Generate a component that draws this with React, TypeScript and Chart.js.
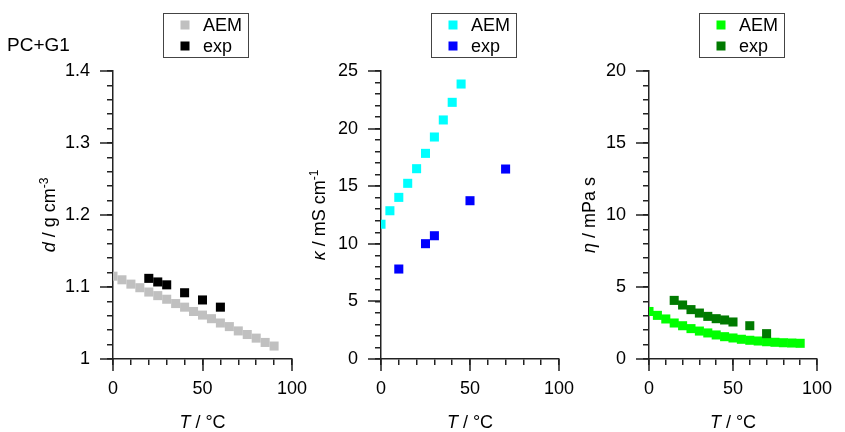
import React, { useEffect, useRef } from "react";
import { Chart, registerables } from "chart.js";

Chart.register(...registerables);

// ---------- data ----------
const T_AEM = [0, 5, 10, 15, 20, 25, 30, 35, 40, 45, 50, 55, 60, 65, 70, 75, 80, 85, 90];
const d_AEM = [1.115, 1.11, 1.104, 1.099, 1.093, 1.088, 1.083, 1.077, 1.072, 1.066, 1.061, 1.056, 1.05, 1.045, 1.039, 1.034, 1.029, 1.023, 1.018];
const T_d_exp = [20, 25, 30, 40, 50, 60];
const d_exp = [1.112, 1.107, 1.103, 1.092, 1.082, 1.072];

const T_k_AEM = [0, 5, 10, 15, 20, 25, 30, 35, 40, 45];
const k_AEM = [11.7, 12.87, 14.03, 15.25, 16.52, 17.85, 19.27, 20.75, 22.28, 23.87];
const T_k_exp = [10, 25, 30, 50, 70];
const k_exp = [7.81, 10.01, 10.7, 13.74, 16.49];

const eta_AEM = [3.3, 3.03, 2.78, 2.5, 2.31, 2.11, 1.94, 1.81, 1.67, 1.55, 1.46, 1.37, 1.3, 1.25, 1.2, 1.16, 1.13, 1.11, 1.09];
const T_eta_exp = [15, 20, 25, 30, 35, 40, 45, 50, 60, 70];
const eta_exp = [4.07, 3.75, 3.43, 3.19, 2.96, 2.8, 2.71, 2.57, 2.31, 1.76];

const legendLabels = ["AEM", "exp"];
const xMajor = 50;
const xMinor = 10;

// ---------- layout ----------
const W = 845;
const H = 432;
const PLOT_TOP = 71;
const PLOT_BOTTOM = 359;
const FONT = "'Liberation Sans', Arial, sans-serif";
const AXIS_COLOR = "#222";
const MINOR_LEN = 6;
const MAJOR_LEN = 12;
const FS = 18;

type Part = { t: string; italic?: boolean; sup?: boolean };

type Panel = {
  left: number;
  right: number;
  yMin: number;
  yMax: number;
  yStep: number;
  yMinor: number;
  aemX: number[];
  aemY: number[];
  expX: number[];
  expY: number[];
  aemColor: string;
  expColor: string;
  yTitle: Part[];
  yTitleOffset: number;
  corner?: string;
};

const panels: Panel[] = [
  {
    left: 113,
    right: 292,
    yMin: 1,
    yMax: 1.4,
    yStep: 0.1,
    yMinor: 0.02,
    aemX: T_AEM,
    aemY: d_AEM,
    expX: T_d_exp,
    expY: d_exp,
    aemColor: "#c0c0c0",
    expColor: "#000000",
    yTitle: [{ t: "d", italic: true }, { t: " / g cm" }, { t: "-3", sup: true }],
    yTitleOffset: 64,
    corner: "PC+G1",
  },
  {
    left: 381,
    right: 559,
    yMin: 0,
    yMax: 25,
    yStep: 5,
    yMinor: 1,
    aemX: T_k_AEM,
    aemY: k_AEM,
    expX: T_k_exp,
    expY: k_exp,
    aemColor: "#00ffff",
    expColor: "#0000ff",
    yTitle: [{ t: "κ", italic: true }, { t: " / mS cm" }, { t: "-1", sup: true }],
    yTitleOffset: 62,
  },
  {
    left: 649,
    right: 826,
    yMin: 0,
    yMax: 20,
    yStep: 5,
    yMinor: 1,
    aemX: T_AEM,
    aemY: eta_AEM,
    expX: T_eta_exp,
    expY: eta_exp,
    aemColor: "#00ff00",
    expColor: "#007a00",
    yTitle: [{ t: "η", italic: true }, { t: " / mPa s" }],
    yTitleOffset: 60,
  },
];

function isMajor(v: number, step: number, base: number) {
  const r = (v - base) / step;
  return Math.abs(r - Math.round(r)) < 1e-6;
}

function fontFor(p: Part, size: number) {
  const s = p.sup ? Math.round(size * 0.68) : size;
  return `${p.italic ? "italic " : ""}${s}px ${FONT}`;
}

function drawRich(ctx: CanvasRenderingContext2D, parts: Part[], cx: number, cy: number, size: number) {
  let total = 0;
  const widths = parts.map((p) => {
    ctx.font = fontFor(p, size);
    const w = ctx.measureText(p.t).width;
    total += w;
    return w;
  });
  let x = cx - total / 2;
  ctx.textBaseline = "alphabetic";
  ctx.textAlign = "left";
  const base = cy + size * 0.36;
  parts.forEach((p, i) => {
    ctx.font = fontFor(p, size);
    ctx.fillText(p.t, x, p.sup ? base - size * 0.42 : base);
    x += widths[i];
  });
}

function makeDecor(panel: Panel) {
  return {
    id: "decor",
    afterDraw(chart: any) {
      const ctx: CanvasRenderingContext2D = chart.ctx;
      const xs = chart.scales.x;
      const ys = chart.scales.y;
      const area = chart.chartArea;
      ctx.save();
      // extend major ticks beyond minor tick length
      ctx.fillStyle = AXIS_COLOR;
      for (let v = 0; v <= 100; v += xMajor) {
        const px = Math.round(xs.getPixelForValue(v));
        ctx.fillRect(px - 0.75, area.bottom, 1.5, MAJOR_LEN);
      }
      const nMajor = Math.round((panel.yMax - panel.yMin) / panel.yStep);
      for (let i = 0; i <= nMajor; i++) {
        const v = panel.yMin + i * panel.yStep;
        const py = Math.round(ys.getPixelForValue(v));
        ctx.fillRect(area.left - MAJOR_LEN - 1, py - 0.75, MAJOR_LEN + 1, 1.5);
      }

      ctx.fillStyle = "#000";
      // x title
      drawRich(ctx, [{ t: "T", italic: true }, { t: " / °C" }], (area.left + area.right) / 2, 422, FS);
      // y title
      ctx.save();
      ctx.translate(area.left - panel.yTitleOffset, (area.top + area.bottom) / 2);
      ctx.rotate(-Math.PI / 2);
      drawRich(ctx, panel.yTitle, 0, 0, FS);
      ctx.restore();

      // legend
      const lx = area.left + 50;
      ctx.strokeStyle = "#444";
      ctx.lineWidth = 1;
      ctx.strokeRect(lx + 0.5, 13.5, 85, 44);
      const colors = [panel.aemColor, panel.expColor];
      const rows = [25, 46];
      ctx.font = `${FS}px ${FONT}`;
      ctx.textAlign = "left";
      ctx.textBaseline = "middle";
      legendLabels.forEach((lab, i) => {
        ctx.fillStyle = colors[i];
        ctx.fillRect(lx + 22 - 4.5, rows[i] - 4.5, 9, 9);
        ctx.fillStyle = "#000";
        ctx.fillText(lab, lx + 40, rows[i] + 1);
      });

      if (panel.corner) {
        ctx.font = `19px ${FONT}`;
        ctx.textBaseline = "middle";
        ctx.textAlign = "left";
        ctx.fillStyle = "#000";
        ctx.fillText(panel.corner, 7, 46);
      }
      ctx.restore();
    },
  };
}

function PanelChart({ panel }: { panel: Panel }) {
  const ref = useRef<HTMLCanvasElement | null>(null);
  useEffect(() => {
    if (!ref.current) return;
    const toPts = (xs: number[], ys: number[]) => xs.map((x, i) => ({ x, y: ys[i] }));
    const pointOpts = (color: string) => ({
      backgroundColor: color,
      borderColor: color,
      borderWidth: 0,
      pointStyle: "rect" as const,
      pointRadius: 6.4,
      pointHoverRadius: 6.4,
      showLine: false,
    });
    const chart = new Chart(ref.current, {
      type: "scatter",
      data: {
        datasets: [
          { label: legendLabels[1], data: toPts(panel.expX, panel.expY), ...pointOpts(panel.expColor) },
          { label: legendLabels[0], data: toPts(panel.aemX, panel.aemY), ...pointOpts(panel.aemColor) },
        ],
      },
      options: {
        animation: false,
        responsive: false,
        devicePixelRatio: 1,
        events: [],
        layout: {
          padding: {
            left: panel.left - 60,
            right: W - panel.right,
            top: PLOT_TOP,
            bottom: H - PLOT_BOTTOM - 50,
          },
        },
        plugins: { legend: { display: false }, tooltip: { enabled: false }, title: { display: false } },
        scales: {
          x: {
            type: "linear",
            min: 0,
            max: 100,
            border: { color: AXIS_COLOR, width: 1.5 },
            grid: { drawOnChartArea: false, tickLength: MINOR_LEN, color: AXIS_COLOR, lineWidth: 1.5 },
            ticks: {
              stepSize: xMinor,
              autoSkip: false,
              maxTicksLimit: 100,
              maxRotation: 0,
              font: { family: FONT, size: FS },
              color: "#000",
              padding: 13,
              callback: (v: any) => (isMajor(Number(v), xMajor, 0) ? String(Number(v)) : ""),
            },
            afterFit: (s: any) => {
              s.height = 50;
            },
          },
          y: {
            type: "linear",
            min: panel.yMin,
            max: panel.yMax,
            border: { color: AXIS_COLOR, width: 1.5 },
            grid: { drawOnChartArea: false, tickLength: MINOR_LEN, color: AXIS_COLOR, lineWidth: 1.5 },
            ticks: {
              stepSize: panel.yMinor,
              autoSkip: false,
              maxTicksLimit: 100,
              font: { family: FONT, size: FS },
              color: "#000",
              padding: 17,
              callback: (v: any) =>
                isMajor(Number(v), panel.yStep, panel.yMin) ? String(parseFloat(Number(v).toFixed(3))) : "",
            },
            afterFit: (s: any) => {
              s.width = 60;
            },
          },
        },
      },
      plugins: [makeDecor(panel)],
    } as any);
    return () => chart.destroy();
  }, [panel]);
  return (
    <canvas
      ref={ref}
      width={W}
      height={H}
      style={{ position: "absolute", left: 0, top: 0, width: W, height: H }}
    />
  );
}

export default function App() {
  useEffect(() => {
    document.body.style.margin = "0";
  }, []);
  return (
    <div style={{ position: "absolute", left: 0, top: 0, width: W, height: H, background: "#fff", overflow: "hidden" }}>
      {panels.map((p, i) => (
        <PanelChart key={i} panel={p} />
      ))}
    </div>
  );
}
